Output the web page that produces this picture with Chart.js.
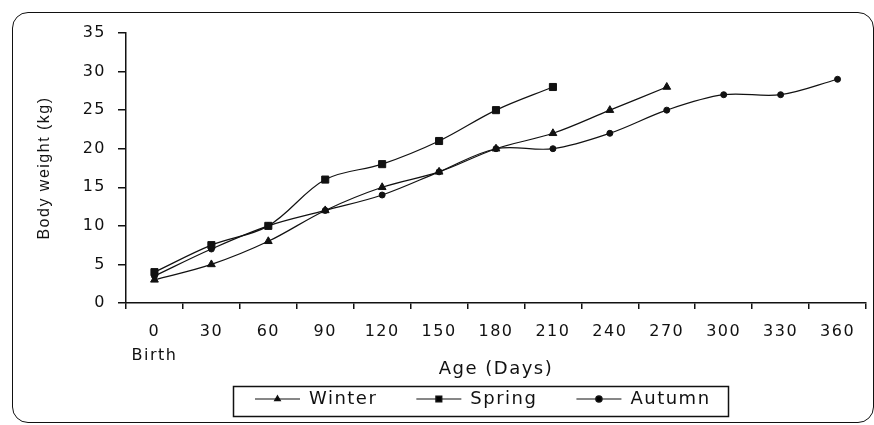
<!DOCTYPE html>
<html>
<head>
<meta charset="utf-8">
<script src="https://cdn.jsdelivr.net/npm/chart.js@4.4.1/dist/chart.umd.min.js"></script>
<style>
  body { margin: 0; background: #fff; }
  #wrap { position: relative; width: 874px; height: 425px; }
  #frame { position: absolute; left: 12px; top: 12px; width: 860px; height: 409px;
           border: 1.5px solid #111; border-radius: 16px; pointer-events: none; }
</style>
</head>
<body>
<div id="wrap">
  <canvas id="growthChart" width="874" height="425"></canvas>
  <div id="frame"></div>
</div>
<script>
// ages (days) and body weight (kg) per season of birth
const ages = [0, 30, 60, 90, 120, 150, 180, 210, 240, 270, 300, 330, 360];
const tickLabels = [['0', 'Birth'], '30', '60', '90', '120', '150', '180', '210', '240', '270', '300', '330', '360'];
const winter = [3, 5, 8, 12, 15, 17, 20, 22, 25, 28];
const spring = [4, 7.5, 10, 16, 18, 21, 25, 28];
const autumn = [3.5, 7, 10, 12, 14, 17, 20, 20, 22, 25, 27, 27, 29];

const ctx = document.getElementById('growthChart').getContext('2d');
Chart.defaults.font.family = '"DejaVu Sans", sans-serif';
Chart.defaults.color = '#111';

const LEGEND_PAD = 39;

// the original text is wide and loosely spaced
const spacing = {
    id: 'spacing',
    beforeUpdate(chart) { chart.ctx.letterSpacing = '1.5px'; },
    beforeDraw(chart) { chart.ctx.letterSpacing = '1.5px'; }
};

// moves the legend to where it sits in the original
const legendPlace = {
    id: 'legendPlace',
    afterLayout(chart) {
        const lg = chart.legend;
        const start = (lg.left + LEGEND_PAD + lg.right - lg.lineWidths[0]) / 2;
        const dx = 255 - start;
        lg.left += dx;
        lg.right += dx;
        lg.top = 390 - LEGEND_PAD;
        lg.bottom = chart.height;
        lg.height = lg.bottom - lg.top;
    }
};

// draws a box around the legend and the markers on the legend lines
const legendDecor = {
    id: 'legendDecor',
    afterDraw(chart) {
        const lg = chart.legend;
        const hb = lg.legendHitBoxes;
        const c = chart.ctx;
        c.save();
        c.strokeStyle = '#111';
        c.lineWidth = 1.5;
        const l = hb[0].left - 22;
        const r = hb[hb.length - 1].left + hb[hb.length - 1].width + 17;
        const t = hb[0].top - 4;
        const b = hb[0].top + hb[0].height + 8;
        c.strokeRect(Math.round(l) + 0.5, Math.round(t) + 0.5, Math.round(r - l), Math.round(b - t));
        hb.forEach((box, i) => {
            const ds = chart.data.datasets[i];
            const x = box.left + lg.options.labels.boxWidth / 2;
            const y = box.top + box.height / 2;
            Chart.helpers.drawPoint(c, { pointStyle: ds.pointStyle, radius: ds.pointStyle === 'rect' ? 4 : 3, borderWidth: 1 }, x, y);
        });
        c.restore();
    }
};

function series(label, data, style) {
    return {
        label: label,
        data: data,
        borderColor: '#111',
        backgroundColor: '#111',
        borderWidth: 1.2,
        pointStyle: style,
        pointRadius: style === 'triangle' ? 4.5 : (style === 'rect' ? 5 : 3),
        pointBorderWidth: 1,
        tension: 0.35,
        fill: false
    };
}

const growthChart = new Chart(ctx, {
    type: 'line',
    data: {
        labels: tickLabels,
        datasets: [
            series('Winter', winter, 'triangle'),
            series('Spring', spring, 'rect'),
            series('Autumn', autumn, 'circle')
        ]
    },
    options: {
        responsive: false,
        animation: false,
        layout: { padding: { left: 10, right: 8, top: 33, bottom: 0 } },
        plugins: {
            tooltip: { enabled: false },
            legend: {
                position: 'bottom',
                maxHeight: 52,
                labels: {
                    boxWidth: 45,
                    boxHeight: 0,
                    padding: LEGEND_PAD,
                    font: { size: 18 },
                    color: '#111'
                }
            }
        },
        scales: {
            x: {
                offset: true,
                afterFit(s) { s.height = 70; },
                border: { color: '#111', width: 1.5 },
                grid: { display: true, drawOnChartArea: false, drawTicks: true, tickLength: 6, color: '#111', lineWidth: 1.5, offset: true },
                ticks: { font: { size: 16, lineHeight: 1.5 }, maxRotation: 0, autoSkip: false, padding: 11 },
                title: { display: true, text: 'Age (Days)', font: { size: 18 }, padding: { top: 0, bottom: -7 } }
            },
            y: {
                min: 0,
                max: 35,
                afterFit(s) { s.width = 116; },
                border: { color: '#111', width: 1.5 },
                grid: { display: true, drawOnChartArea: false, drawTicks: true, tickLength: 8, color: '#111', lineWidth: 1.5 },
                ticks: { stepSize: 5, font: { size: 16 }, padding: 12 },
                title: {
                    display: true,
                    text: 'Body weight (kg)',
                    font: { size: 16, family: '"Liberation Sans", Arial, sans-serif' },
                    padding: { top: 25, bottom: 0 }
                }
            }
        }
    },
    plugins: [spacing, legendPlace, legendDecor]
});
</script>
</body>
</html>
